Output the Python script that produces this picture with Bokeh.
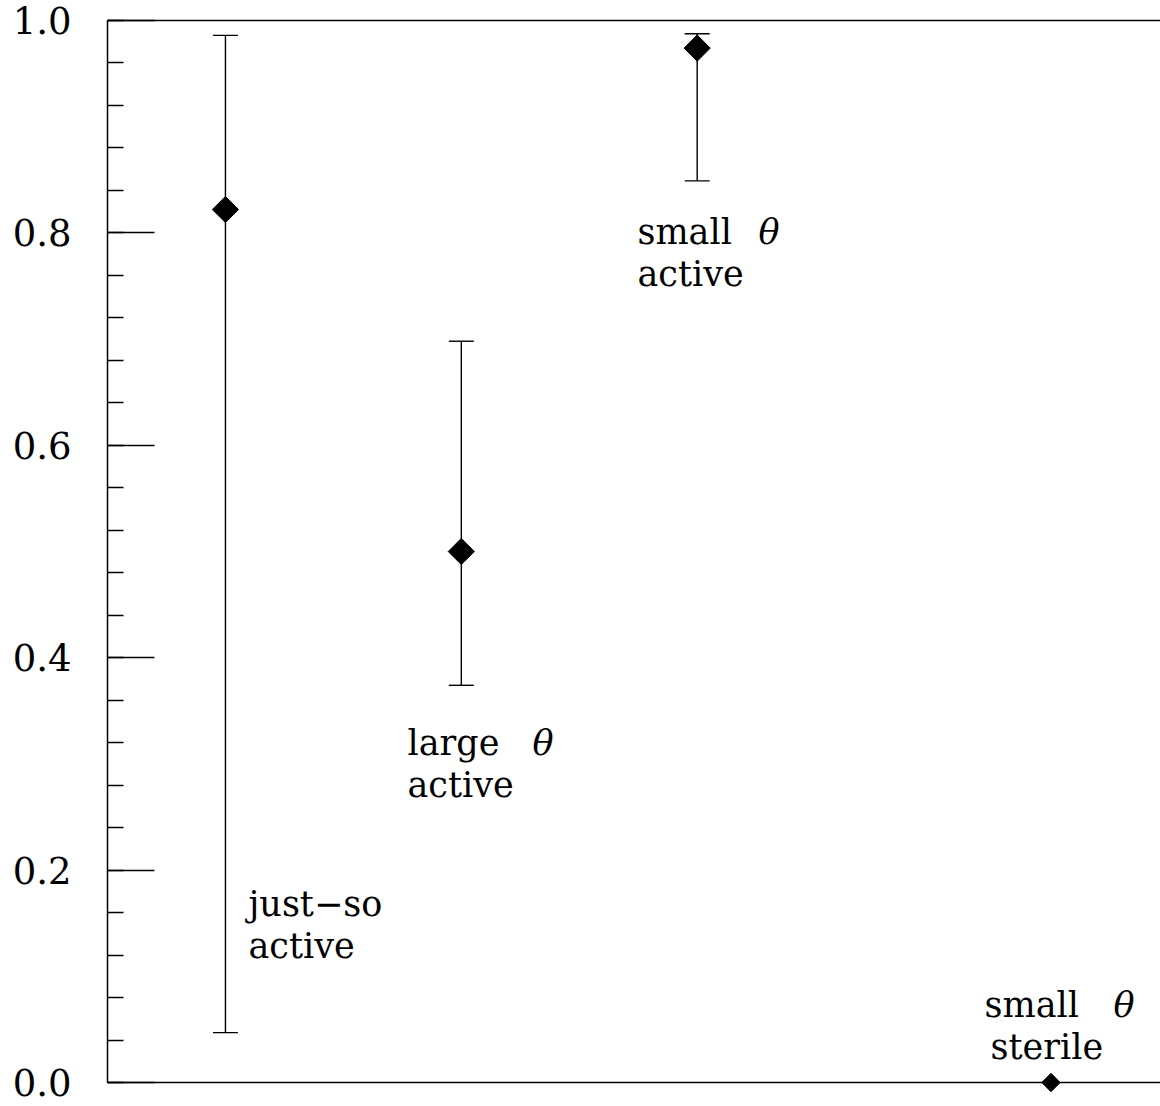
import numpy as np
from bokeh.plotting import figure
from bokeh.models import (ColumnDataSource, Range1d, LinearAxis, FixedTicker,
                          Whisker, TeeHead)
from bokeh.core.properties import value
from bokeh.embed import file_html
from bokeh.resources import INLINE

# ---- data ----
names = ["just-so active", "large theta active", "small theta active", "small theta sterile"]
x_pos = [0.112, 0.336, 0.560, 0.896]
y_val = [0.822, 0.500, 0.974, 0.000]
y_low = [0.047, 0.374, 0.849, None]
y_high = [0.986, 0.698, 0.9875, None]

y_ticks = [0.0, 0.2, 0.4, 0.6, 0.8, 1.0]
y_tick_labels = ["0.0", "0.2", "0.4", "0.6", "0.8", "1.0"]

label_text = ["just\u2212so", "active", "large", "active", "small", "active", "small", "sterile"]
label_x = [0.1339, 0.1339, 0.2849, 0.2849, 0.5033, 0.5033, 0.8329, 0.8386]
label_y = [0.168, 0.1286, 0.3197, 0.2802, 0.8007, 0.7612, 0.0731, 0.0336]
theta_x = [0.4036, 0.6182, 0.9554]
theta_y = [0.3197, 0.8007, 0.0731]

# ---- styles ----
marker_size = [18.5, 18.5, 18.5, 13]
FONT = "DejaVu Serif"

p = figure(frame_width=1053, frame_height=1062, output_backend="svg",
           toolbar_location=None, x_range=Range1d(0, 1), y_range=Range1d(0, 1),
           x_axis_location=None, y_axis_location=None,
           min_border_left=107, min_border_top=20, min_border_bottom=22, min_border_right=0)
p.outline_line_color = None
p.xgrid.visible = False
p.ygrid.visible = False
p.background_fill_color = "white"
p.border_fill_color = "white"

minor = [round(v, 4) for v in np.arange(0, 1.0001, 0.04)]
yaxis = LinearAxis(ticker=FixedTicker(ticks=y_ticks, minor_ticks=minor),
                   major_label_overrides={t: l for t, l in zip(y_ticks, y_tick_labels)},
                   major_tick_in=47, major_tick_out=0,
                   minor_tick_in=16, minor_tick_out=0,
                   axis_line_width=1.5, major_tick_line_width=1.5, minor_tick_line_width=1.5,
                   major_label_standoff=36,
                   major_label_text_font=FONT, major_label_text_font_size="37px",
                   major_label_text_color="black")
p.add_layout(yaxis, "left")

for loc in ["below", "above"]:
    ax = LinearAxis(ticker=FixedTicker(ticks=[]), axis_line_width=1.5,
                    major_tick_in=0, major_tick_out=0, minor_tick_in=0, minor_tick_out=0,
                    major_label_text_font_size="0px")
    p.add_layout(ax, loc)

# error bars
idx = [i for i in range(len(x_pos)) if y_low[i] is not None]
err_src = ColumnDataSource(dict(x=[x_pos[i] for i in idx],
                                lower=[y_low[i] for i in idx],
                                upper=[y_high[i] for i in idx]))
w = Whisker(base="x", lower="lower", upper="upper", source=err_src,
            line_width=1.4, line_color="black",
            upper_head=TeeHead(size=25, line_width=1.4, line_color="black"),
            lower_head=TeeHead(size=25, line_width=1.4, line_color="black"))
p.add_layout(w)

pt_src = ColumnDataSource(dict(x=x_pos, y=y_val, s=marker_size, name=names))
p.scatter("x", "y", source=pt_src, marker="square", size="s", angle=np.pi / 4,
          fill_color="black", line_color="black", level="overlay")

lab_src = ColumnDataSource(dict(x=label_x, y=label_y, t=label_text))
p.text("x", "y", text="t", source=lab_src, text_font=value(FONT),
       text_font_size="35px", text_align="left", text_baseline="alphabetic",
       text_color="black")

th_src = ColumnDataSource(dict(x=theta_x, y=theta_y, t=["\u03b8"] * len(theta_x)))
p.text("x", "y", text="t", source=th_src, text_font=value(FONT),
       text_font_size="35px", text_font_style="italic", text_align="left",
       text_baseline="alphabetic", text_color="black")

open("out.html", "w").write(file_html(p, INLINE))
